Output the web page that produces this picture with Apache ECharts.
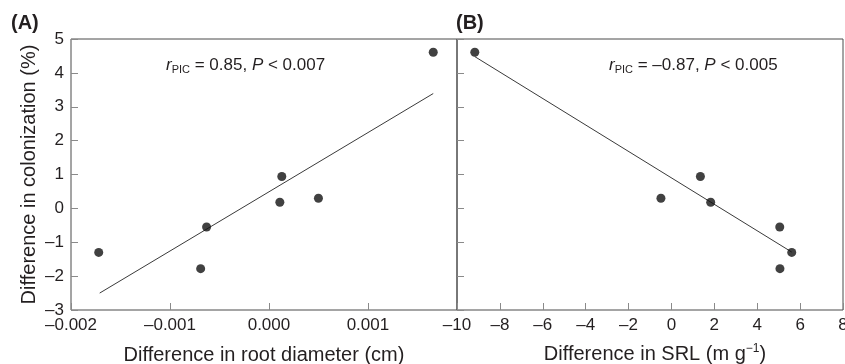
<!DOCTYPE html>
<html>
<head>
<meta charset="utf-8">
<script src="https://cdn.jsdelivr.net/npm/echarts@6/dist/echarts.min.js"></script>
<style>
  html, body { margin: 0; padding: 0; background: #fff; }
  #chart { width: 845px; height: 364px; }
</style>
</head>
<body>
<div id="chart"></div>
<script>
// colonization difference, shared by both panels (same species pairs)
const colonization = [-1.30, -1.78, -0.55, 0.18, 0.94, 0.30, 4.61];
// panel A: difference in root diameter (cm)
const rootDiameter = [-0.00172, -0.00069, -0.00063, 0.00011, 0.00013, 0.00050, 0.00166];
// panel B: difference in SRL (m g-1)
const srl = [5.61, 5.06, 5.05, 1.83, 1.35, -0.49, -9.17];
// fitted regression lines, end points
const fitA = [[-0.00171, -2.50], [0.00166, 3.39]];
const fitB = [[-9.17, 4.48], [5.61, -1.29]];
const yTicks = { min: -3, max: 5, interval: 1 };

const FONT = "'Liberation Sans', Arial, sans-serif";
const INK = '#231f20';
const dash = s => String(s).replace('-', '\u2013');

const chart = echarts.init(document.getElementById('chart'), null, { renderer: 'canvas' });

const gridBase = {
  top: 39, bottom: 54, outerBoundsMode: 'none', containLabel: false,
  show: true, borderColor: '#4a4a4a', borderWidth: 1, backgroundColor: 'transparent'
};
const noLine = { show: false, onZero: false };
const tick = { show: true, inside: true, length: 7, lineStyle: { color: '#8a8a8a', width: 1 } };
const tickLabel = { color: INK, fontFamily: FONT, fontSize: 17, margin: 7 };
const nameStyle = { color: INK, fontFamily: FONT, fontSize: 20 };

const pointStyle = { color: '#111' };
const fitStyle = { color: '#3a3a3a', width: 1 };

const statRich = {
  i: { fontFamily: FONT, fontSize: 17, fontStyle: 'italic', fontWeight: 'normal', color: INK, lineHeight: 22 },
  t: { fontFamily: FONT, fontSize: 17, fontWeight: 'normal', color: INK, lineHeight: 22 },
  s: { fontFamily: FONT, fontSize: 11, fontWeight: 'normal', color: INK, lineHeight: 22, padding: [9, 0, 0, 0] }
};

const option = {
  animation: false,
  backgroundColor: '#fff',
  grid: [
    Object.assign({ left: 71, right: 388 }, gridBase),
    Object.assign({ left: 457, right: 2 }, gridBase)
  ],
  title: [
    { text: '(A)', left: 6, top: 8, textStyle: { fontFamily: FONT, fontSize: 20, fontWeight: 'bold', color: INK } },
    { text: '(B)', left: 451, top: 8, textStyle: { fontFamily: FONT, fontSize: 20, fontWeight: 'bold', color: INK } },
    {
      text: '{i|r}{s|PIC}{t| = 0.85, }{i|P}{t| < 0.007}',
      left: 161, top: 49,
      textStyle: { fontWeight: 'normal', rich: statRich }
    },
    {
      text: '{i|r}{s|PIC}{t| = \u20130.87, }{i|P}{t| < 0.005}',
      left: 604, top: 49,
      textStyle: { fontWeight: 'normal', rich: statRich }
    }
  ],
  xAxis: [
    {
      gridIndex: 0, type: 'value', min: -0.002, max: 0.0019, interval: 0.001,
      axisLine: noLine, axisTick: tick, splitLine: { show: false },
      axisLabel: Object.assign({ showMaxLabel: false, formatter: v => dash(v.toFixed(3)) }, tickLabel),
      name: 'Difference in root diameter (cm)', nameLocation: 'middle', nameGap: 35, nameTextStyle: nameStyle
    },
    {
      gridIndex: 1, type: 'value', min: -10, max: 8, interval: 2,
      axisLine: noLine, axisTick: tick, splitLine: { show: false },
      axisLabel: Object.assign({ formatter: v => dash(v) }, tickLabel),
      name: '{t|Difference in SRL (m g}{u|\u22121}{t|)}', nameLocation: 'middle', nameGap: 33,
      nameTextStyle: {
        padding: [0, 0, 0, 10],
        rich: {
          t: nameStyle,
          u: { color: INK, fontFamily: FONT, fontSize: 12, padding: [0, 0, 10, 0] }
        }
      }
    }
  ],
  yAxis: [
    {
      gridIndex: 0, type: 'value', min: yTicks.min, max: yTicks.max, interval: yTicks.interval,
      axisLine: noLine, axisTick: tick, splitLine: { show: false },
      axisLabel: Object.assign({ formatter: v => dash(v) }, tickLabel),
      name: 'Difference in colonization (%)', nameLocation: 'middle', nameGap: 32, nameTextStyle: nameStyle
    },
    {
      gridIndex: 1, type: 'value', min: yTicks.min, max: yTicks.max, interval: yTicks.interval,
      axisLine: noLine, axisTick: tick, splitLine: { show: false },
      axisLabel: { show: false }
    }
  ],
  series: [
    {
      type: 'line', xAxisIndex: 0, yAxisIndex: 0, data: fitA,
      symbol: 'none', lineStyle: fitStyle, z: 1
    },
    {
      type: 'scatter', xAxisIndex: 0, yAxisIndex: 0, symbolSize: 9,
      data: rootDiameter.map((x, i) => [x, colonization[i]]), itemStyle: pointStyle, z: 2
    },
    {
      type: 'line', xAxisIndex: 1, yAxisIndex: 1, data: fitB,
      symbol: 'none', lineStyle: fitStyle, z: 1
    },
    {
      type: 'scatter', xAxisIndex: 1, yAxisIndex: 1, symbolSize: 9,
      data: srl.map((x, i) => [x, colonization[i]]), itemStyle: pointStyle, z: 2
    }
  ]
};

chart.setOption(option);
</script>
</body>
</html>
